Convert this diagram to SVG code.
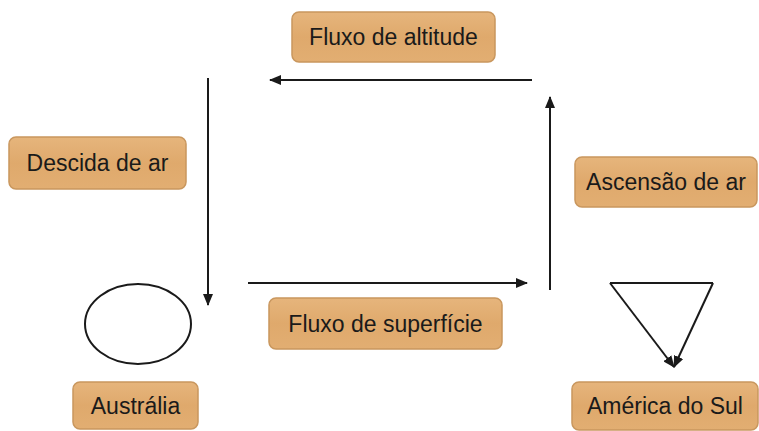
<svg xmlns="http://www.w3.org/2000/svg" width="759" height="431" viewBox="0 0 759 431">
<defs>
<linearGradient id="g" x1="0" y1="0" x2="0" y2="1">
<stop offset="0" stop-color="#E6B57C"/>
<stop offset="0.5" stop-color="#DFA96C"/>
<stop offset="1" stop-color="#E2AE72"/>
</linearGradient>
<marker id="ah" viewBox="0 0 12 10" refX="11" refY="5" markerWidth="12" markerHeight="10" markerUnits="userSpaceOnUse" orient="auto">
<path d="M0,0 L12,5 L0,10 Z" fill="#1a1a1a"/>
</marker>
<style>
.box{fill:url(#g);stroke:#C9975E;stroke-width:1.5}
.lbl{font-family:"Liberation Sans",Arial,sans-serif;font-size:23px;fill:#1a1a1a;text-anchor:middle;dominant-baseline:central}
.ln{stroke:#1a1a1a;stroke-width:2;fill:none}
</style>
</defs>
<rect width="759" height="431" fill="#ffffff"/>
<g id="fluxo-altitude"><rect class="box" x="292" y="12" width="203" height="50" rx="7"/><text class="lbl" x="393.5" y="37">Fluxo de altitude</text></g>
<g id="descida-de-ar"><rect class="box" x="9" y="137" width="177" height="52" rx="7"/><text class="lbl" x="97.5" y="163">Descida de ar</text></g>
<g id="ascensao-de-ar"><rect class="box" x="575" y="157" width="182" height="50" rx="7"/><text class="lbl" x="666" y="182">Ascensão de ar</text></g>
<g id="fluxo-superficie"><rect class="box" x="269" y="298" width="233" height="51" rx="7"/><text class="lbl" x="385.5" y="323.5">Fluxo de superfície</text></g>
<g id="australia"><ellipse cx="138" cy="324" rx="53" ry="40" fill="#ffffff" stroke="#1a1a1a" stroke-width="2"/><rect class="box" x="73" y="382" width="125" height="47" rx="7"/><text class="lbl" x="135.5" y="405.5">Austrália</text></g>
<g id="america-do-sul"><rect class="box" x="572" y="382" width="186" height="48" rx="7"/><text class="lbl" x="665" y="406">América do Sul</text></g>
<g id="connectors">
<line class="ln" x1="532" y1="80" x2="270" y2="80" marker-end="url(#ah)"/>
<line class="ln" x1="208" y1="78" x2="208" y2="305" marker-end="url(#ah)"/>
<line class="ln" x1="248" y1="283" x2="527" y2="283" marker-end="url(#ah)"/>
<line class="ln" x1="550" y1="290" x2="550" y2="97" marker-end="url(#ah)"/>
<line class="ln" x1="610" y1="283" x2="713" y2="283"/>
<line class="ln" x1="610" y1="283" x2="674" y2="367" marker-end="url(#ah)"/>
<line class="ln" x1="713" y1="283" x2="674" y2="367" marker-end="url(#ah)"/>
</g>
</svg>
